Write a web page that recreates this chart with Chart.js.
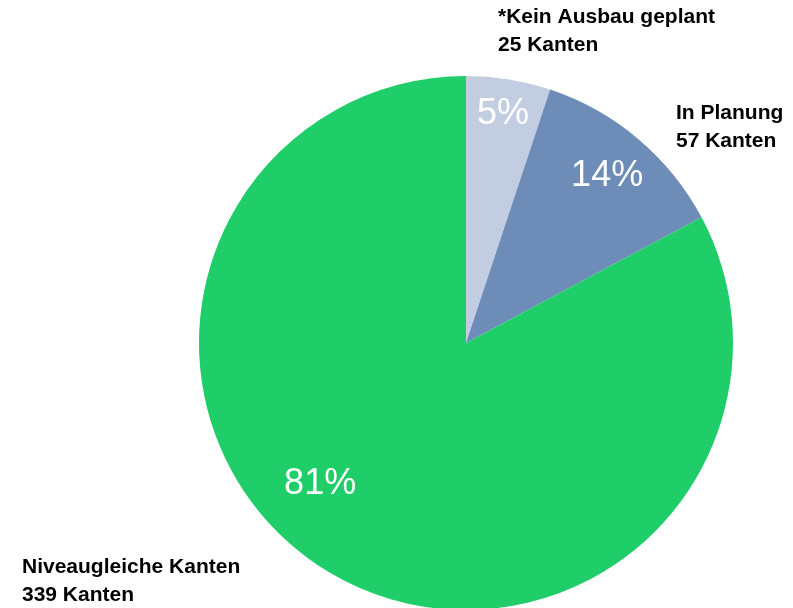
<!DOCTYPE html>
<html>
<head>
<meta charset="utf-8">
<script src="https://cdn.jsdelivr.net/npm/chart.js@4"></script>
<style>
  html, body { margin: 0; padding: 0; background: #fff; overflow: hidden; }
  #wrap { position: absolute; left: 0; top: 0; width: 793px; height: 620px; }
</style>
</head>
<body>
<div id="wrap"><canvas id="pie"></canvas></div>
<script>
// slice order starting at 12 o'clock, clockwise
const categories = ['*Kein Ausbau geplant', 'In Planung', 'Niveaugleiche Kanten'];
const edgeCounts = [25, 57, 339];
// slice sizes as drawn in the picture (share of the circle, %)
const sliceShares = [5.1, 12.1, 82.8];
const percentLabels = ['5%', '14%', '81%'];
const sliceColors = ['#c3cde1', '#6d8cb8', '#1fce68'];

// where the white % text sits: fraction of radius, angle shift (deg) from slice middle
const innerPos = [
  { r: 0.87, shift: 0 },
  { r: 0.82, shift: 0 },
  { r: 0.76, shift: 15 },
];
// outside captions: left x and first line centre y (px)
const outerPos = [
  { x: 498, y: 17 },
  { x: 676, y: 113 },
  { x: 22, y: 567 },
];

const sliceText = {
  id: 'sliceText',
  afterDatasetsDraw(chart) {
    const ctx = chart.ctx;
    const arcs = chart.getDatasetMeta(0).data;
    ctx.save();
    arcs.forEach((arc, i) => {
      const p = arc.getProps(['x', 'y', 'startAngle', 'endAngle', 'outerRadius'], true);
      const a = (p.startAngle + p.endAngle) / 2 + innerPos[i].shift * Math.PI / 180;
      const r = p.outerRadius * innerPos[i].r;
      ctx.fillStyle = '#ffffff';
      ctx.font = '36px "Liberation Sans", Arial, sans-serif';
      ctx.textAlign = 'center';
      ctx.textBaseline = 'middle';
      ctx.fillText(percentLabels[i], p.x + r * Math.cos(a), p.y + r * Math.sin(a));

      ctx.fillStyle = '#000000';
      ctx.font = 'bold 21px "Liberation Sans", Arial, sans-serif';
      ctx.textAlign = 'left';
      ctx.fillText(categories[i], outerPos[i].x, outerPos[i].y);
      ctx.fillText(edgeCounts[i] + ' Kanten', outerPos[i].x, outerPos[i].y + 28);
    });
    ctx.restore();
  }
};

new Chart(document.getElementById('pie'), {
  type: 'pie',
  data: {
    labels: categories,
    datasets: [{
      data: sliceShares,
      backgroundColor: sliceColors,
      borderWidth: 0,
    }],
  },
  options: {
    responsive: true,
    maintainAspectRatio: false,
    animation: false,
    layout: { padding: { left: 199, right: 60, top: 76, bottom: 10 } },
    plugins: {
      legend: { display: false },
      tooltip: { enabled: false },
    },
  },
  plugins: [sliceText],
});
</script>
</body>
</html>
